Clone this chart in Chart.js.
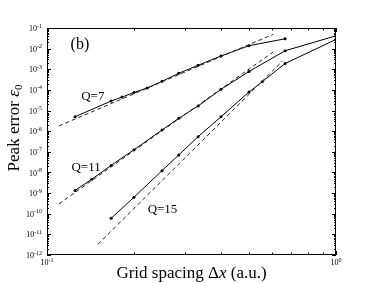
<!DOCTYPE html>
<html>
<head>
<meta charset="utf-8">
<script src="https://cdn.jsdelivr.net/npm/chart.js@4/dist/chart.umd.min.js"></script>
<style>
  html, body { margin: 0; padding: 0; background: #fff; }
</style>
</head>
<body>
<canvas id="myChart" width="374" height="283"></canvas>
<script>
// Peak error vs grid spacing
const q7Dx = [0.125, 0.1667, 0.1818, 0.2, 0.2222, 0.25, 0.2857, 0.3333, 0.4, 0.5, 0.6667];
const q7Err = [5.0e-6, 2.9e-5, 4.5e-5, 7.5e-5, 1.24e-4, 2.6e-4, 6.4e-4, 1.56e-3, 4.4e-3, 1.39e-2, 3.0e-2];

const q11Dx = [0.125, 0.1429, 0.1667, 0.2, 0.25, 0.2857, 0.3333, 0.4, 0.5, 0.6667, 1.0];
const q11Err = [1.34e-9, 4.7e-9, 2.2e-8, 1.26e-7, 1.14e-6, 4.2e-6, 1.66e-5, 1.07e-4, 7.8e-4, 7.9e-3, 4.2e-2];

const q15Dx = [0.1667, 0.2, 0.25, 0.2857, 0.3333, 0.4, 0.5, 0.5556, 0.6667, 1.0];
const q15Err = [6.0e-11, 6.3e-10, 1.22e-8, 7.0e-8, 5.4e-7, 5.0e-6, 7.9e-5, 2.5e-4, 1.9e-3, 2.8e-2];

// dashed power-law guides (end points)
const fit7Dx = [0.110, 0.607];
const fit7Err = [1.8e-6, 5.0e-2];
const fit11Dx = [0.110, 0.607];
const fit11Err = [3.0e-10, 7.0e-3];
const fit15Dx = [0.150, 0.653];
const fit15Err = [3.3e-12, 2.5e-3];

// axis decades
const xDecades = [-1, 0];
const yDecades = [-12, -11, -10, -9, -8, -7, -6, -5, -4, -3, -2, -1];

// text labels placed in data coordinates
const noteText = ['(b)', 'Q=7', 'Q=11', 'Q=15'];
const noteDx = [0.13, 0.144, 0.1365, 0.251];
const noteErr = [1.5e-2, 4.5e-5, 1.66e-8, 1.52e-10];

const SERIF = '"Liberation Serif", "DejaVu Serif", serif';

function pts(xs, ys) {
    return xs.map((x, i) => ({ x: x, y: ys[i] }));
}

function solid(xs, ys) {
    return {
        data: pts(xs, ys),
        borderColor: '#000',
        backgroundColor: '#000',
        borderWidth: 1,
        pointRadius: 1.5,
        pointBorderWidth: 0,
        tension: 0
    };
}

function dashed(xs, ys) {
    return {
        data: pts(xs, ys),
        borderColor: '#222',
        borderWidth: 1,
        borderDash: [4, 3],
        pointRadius: 0,
        tension: 0
    };
}

// draws box, inward ticks, power-of-ten labels, axis titles and notes
const decor = {
    id: 'decor',
    afterDraw(chart) {
        const ctx = chart.ctx;
        const a = chart.chartArea;
        const xs = chart.scales.x;
        const ys = chart.scales.y;
        ctx.save();
        ctx.strokeStyle = '#000';
        ctx.lineWidth = 1;
        ctx.strokeRect(a.left + 0.5, a.top + 0.5, a.right - a.left - 1, a.bottom - a.top - 1);

        ctx.beginPath();
        // x ticks (top and bottom)
        for (let m = 1; m <= 10; m++) {
            const px = Math.round(xs.getPixelForValue(m * 0.1)) + 0.5;
            const len = (m === 1 || m === 10) ? 4 : 2.5;
            ctx.moveTo(px, a.bottom);
            ctx.lineTo(px, a.bottom - len);
            ctx.moveTo(px, a.top);
            ctx.lineTo(px, a.top + len);
        }
        // y ticks (left and right)
        yDecades.forEach(e => {
            for (let m = 1; m <= 9; m++) {
                const v = m * Math.pow(10, e);
                if (v > 0.1 + 1e-12) continue;
                const py = Math.round(ys.getPixelForValue(v)) + 0.5;
                const len = m === 1 ? 4 : 2;
                ctx.moveTo(a.left, py);
                ctx.lineTo(a.left + len, py);
                ctx.moveTo(a.right, py);
                ctx.lineTo(a.right - len, py);
            }
        });
        ctx.stroke();

        ctx.fillStyle = '#000';
        // power-of-ten labels
        function powLabel(exp, x, y, align) {
            ctx.font = '8px ' + SERIF;
            const w1 = ctx.measureText('10').width;
            ctx.font = '6px ' + SERIF;
            const sup = String(exp);
            const w2 = ctx.measureText(sup).width;
            let left = x;
            if (align === 'right') left = x - w1 - w2;
            if (align === 'center') left = x - (w1 + w2) / 2;
            ctx.textBaseline = 'middle';
            ctx.textAlign = 'left';
            ctx.font = '8px ' + SERIF;
            ctx.fillText('10', left, y + 1);
            ctx.font = '6px ' + SERIF;
            ctx.fillText(sup, left + w1, y - 2);
        }
        yDecades.forEach(e => {
            powLabel(e, a.left - 5, ys.getPixelForValue(Math.pow(10, e)), 'right');
        });
        xDecades.forEach(e => {
            powLabel(e, xs.getPixelForValue(Math.pow(10, e)), a.bottom + 7, 'center');
        });

        // x title
        ctx.textBaseline = 'middle';
        ctx.textAlign = 'left';
        const parts = [['Grid spacing Δ', ''], ['x', 'italic '], [' (a.u.)', '']];
        let total = 0;
        parts.forEach(p => { ctx.font = p[1] + '17px ' + SERIF; total += ctx.measureText(p[0]).width; });
        let cx = (a.left + a.right) / 2 - total / 2;
        parts.forEach(p => {
            ctx.font = p[1] + '17px ' + SERIF;
            ctx.fillText(p[0], cx, 274);
            cx += ctx.measureText(p[0]).width;
        });

        // y title
        ctx.save();
        ctx.translate(15, 128);
        ctx.rotate(-Math.PI / 2);
        ctx.font = '17px ' + SERIF;
        const t1 = 'Peak error ';
        const w1 = ctx.measureText(t1).width;
        ctx.font = 'italic 17px ' + SERIF;
        const w2 = ctx.measureText('ε').width;
        ctx.font = '11px ' + SERIF;
        const w3 = ctx.measureText('0').width;
        let sx = -(w1 + w2 + w3) / 2;
        ctx.font = '17px ' + SERIF;
        ctx.fillText(t1, sx, 0);
        ctx.font = 'italic 17px ' + SERIF;
        ctx.fillText('ε', sx + w1, 0);
        ctx.font = '11px ' + SERIF;
        ctx.fillText('0', sx + w1 + w2, 4);
        ctx.restore();

        // notes
        ctx.textAlign = 'center';
        ctx.textBaseline = 'middle';
        noteText.forEach((t, i) => {
            ctx.font = (i === 0 ? '16px ' : '13px ') + SERIF;
            ctx.fillText(t, xs.getPixelForValue(noteDx[i]), ys.getPixelForValue(noteErr[i]));
        });
        ctx.restore();
    }
};

const ctx = document.getElementById('myChart').getContext('2d');
const myChart = new Chart(ctx, {
    type: 'line',
    data: {
        datasets: [
            dashed(fit7Dx, fit7Err),
            dashed(fit11Dx, fit11Err),
            dashed(fit15Dx, fit15Err),
            solid(q7Dx, q7Err),
            solid(q11Dx, q11Err),
            solid(q15Dx, q15Err)
        ]
    },
    options: {
        responsive: false,
        animation: false,
        layout: { padding: { top: 28, right: 38, left: 0, bottom: 0 } },
        plugins: { legend: { display: false }, tooltip: { enabled: false } },
        scales: {
            x: {
                type: 'logarithmic',
                min: 0.1,
                max: 1,
                ticks: { display: false },
                grid: { display: false },
                border: { display: false },
                afterFit: s => { s.height = 28; }
            },
            y: {
                type: 'logarithmic',
                min: 1e-12,
                max: 1e-1,
                ticks: { display: false },
                grid: { display: false },
                border: { display: false },
                afterFit: s => { s.width = 47; }
            }
        }
    },
    plugins: [decor]
});
</script>
</body>
</html>
